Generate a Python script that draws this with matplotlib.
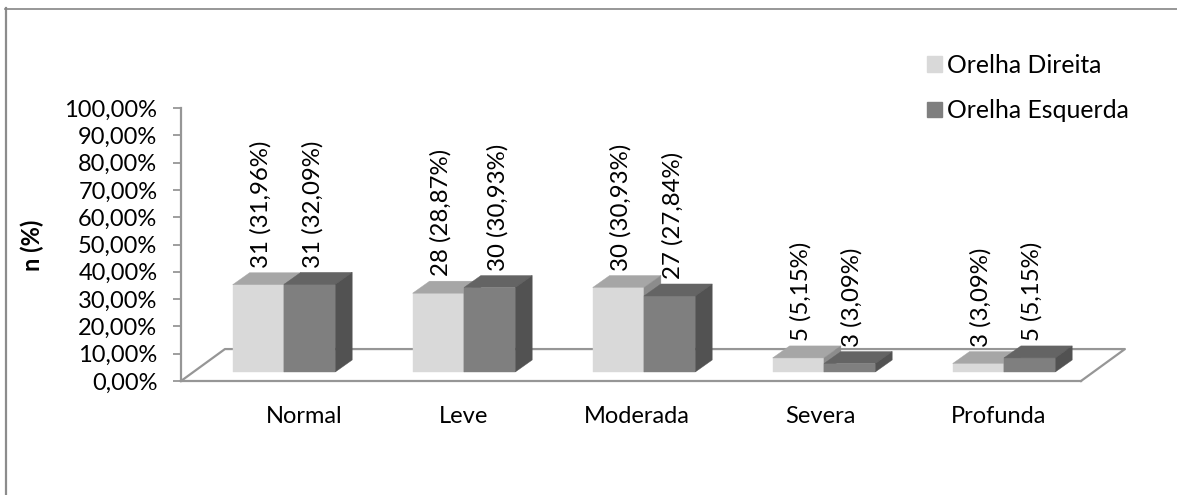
import matplotlib
matplotlib.use('Agg')
import matplotlib.pyplot as plt
from matplotlib.lines import Line2D
from matplotlib.patches import Patch, Polygon

plt.rcParams['font.family'] = ['Lato', 'DejaVu Sans']

categorias = ['Normal', 'Leve', 'Moderada', 'Severa', 'Profunda']
direita = [31.96, 28.87, 30.93, 5.15, 3.09]
esquerda = [32.09, 30.93, 27.84, 3.09, 5.15]
n_direita = [31, 28, 30, 5, 3]
n_esquerda = [31, 30, 27, 3, 5]
yticks = list(range(0, 101, 10))
ytick_labels = ['0,00%', '10,00%', '20,00%', '30,00%', '40,00%', '50,00%',
                '60,00%', '70,00%', '80,00%', '90,00%', '100,00%']

# os rotulos do eixo x nao ficam centrados nas barras no original
desvio_rotulos = [0.11, 0.0, -0.04, -0.02, -0.03]
# deslocamento (pontos) dos rotulos de valor da barra esquerda
desvio_esq = [2, 6, 2, 1.5, 1.5]

W, H = 1177, 495
largura = 0.285
base = 3.3      # barras comecam um pouco acima do eixo
prof_x, prof_y = 0.094, 4.4
piso_x, piso_y = 0.244, 11.7
GRAY = '#969696'
FS = 17

fig = plt.figure(figsize=(W / 100, H / 100), dpi=100, facecolor='white')
# a moldura so aparece em cima e a esquerda
fig.add_artist(Line2D([6 / W, 6 / W], [0, 1 - 8 / H], color='#8c8c8c', lw=1.6))
fig.add_artist(Line2D([5 / W, 1], [1 - 8.5 / H, 1 - 8.5 / H], color='#858585', lw=1.2))

ax = fig.add_axes([181 / W, 1 - 381 / H, 900 / W, 273 / H])
ax.set_xlim(-0.572, 4.428)
ax.set_ylim(0, 100)
ax.patch.set_alpha(0)


def barra_3d(x, valor, frente, topo, lado):
    y1 = base + valor
    ax.bar(x, valor, largura, bottom=base, color=frente, edgecolor=frente, linewidth=0.3, align='edge', zorder=3)
    ax.add_patch(Polygon([(x, y1), (x + prof_x, y1 + prof_y), (x + largura + prof_x, y1 + prof_y),
                          (x + largura, y1)], closed=True, facecolor=topo, edgecolor=topo, linewidth=0.3,
                         zorder=3, clip_on=False))
    ax.add_patch(Polygon([(x + largura, base), (x + largura + prof_x, base + prof_y),
                          (x + largura + prof_x, y1 + prof_y), (x + largura, y1)], closed=True,
                         facecolor=lado, edgecolor=lado, linewidth=0.3, zorder=3, clip_on=False))


# piso
x0, x1 = ax.get_xlim()
ax.plot([x0, x0 + piso_x, x1 + piso_x, x1], [0, piso_y, piso_y, 0], color=GRAY, lw=1.6,
        clip_on=False, zorder=1)

for i in range(len(categorias)):
    barra_3d(i - largura, direita[i], '#d9d9d9', '#a6a6a6', '#8c8c8c')
    barra_3d(i, esquerda[i], '#7f7f7f', '#646464', '#525252')
    ax.annotate(f'{n_direita[i]} ({direita[i]:.2f}%)'.replace('.', ','),
                (i - largura / 2, base + direita[i] + prof_y), xytext=(1.5, 3.5), textcoords='offset points',
                rotation=90, ha='center', va='bottom', fontsize=17.3, color='black', zorder=2)
    ax.annotate(f'{n_esquerda[i]} ({esquerda[i]:.2f}%)'.replace('.', ','),
                (i + largura / 2, base + esquerda[i] + prof_y), xytext=(desvio_esq[i], 3.5),
                textcoords='offset points',
                rotation=90, ha='center', va='bottom', fontsize=17.3, color='black', zorder=2)

ax.set_yticks(yticks)
ax.set_yticklabels(ytick_labels)
ax.tick_params(axis='y', length=6, width=1.3, color=GRAY, labelsize=FS, pad=11)
ax.set_xticks([i + d for i, d in enumerate(desvio_rotulos)])
ax.set_xticklabels(categorias)
ax.tick_params(axis='x', length=0, labelsize=FS, pad=18)
ax.set_ylabel('n (%)', fontsize=17, fontweight='bold')
ax.yaxis.set_label_coords((44 - 181) / 900, 0.498)

for s in ['top', 'right']:
    ax.spines[s].set_visible(False)
for s in ['left', 'bottom']:
    ax.spines[s].set_color(GRAY)
    ax.spines[s].set_linewidth(1.6)

handles = [Patch(color='#d9d9d9', label='Orelha Direita'), Patch(color='#7f7f7f', label='Orelha Esquerda')]
fig.legend(handles=handles, loc='upper left', bbox_to_anchor=(927 / W, 1 - 54 / H), frameon=False,
           fontsize=17.8, handlelength=0.6, handleheight=0.6, handletextpad=0.22, labelspacing=0.9,
           borderpad=0, borderaxespad=0)

fig.savefig('out.png', dpi=100)
